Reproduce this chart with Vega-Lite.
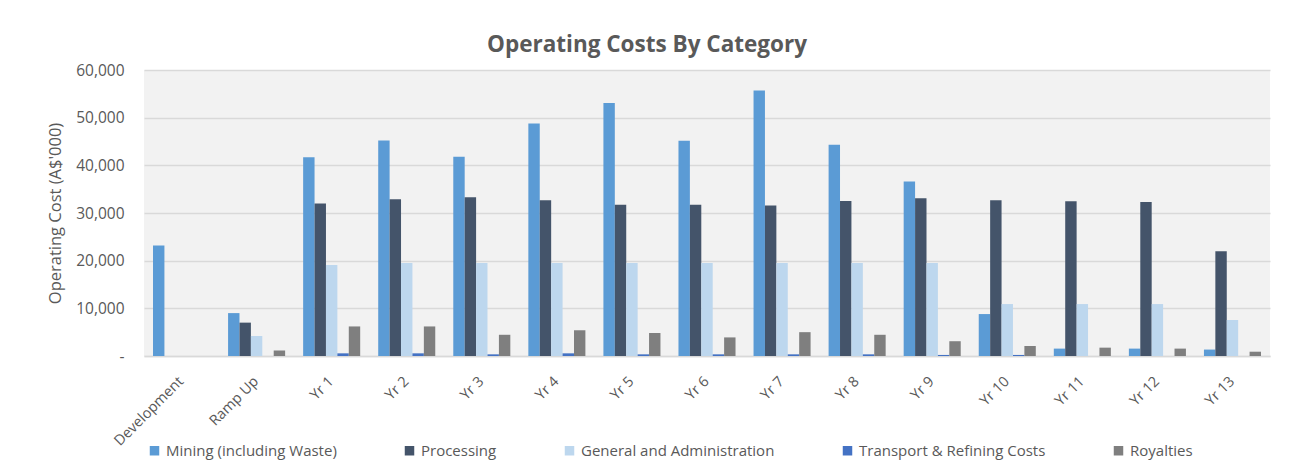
{
  "$schema": "https://vega.github.io/schema/vega-lite/v6.json",
  "width": 1126,
  "height": 286,
  "autosize": {"type": "none"},
  "padding": {"left": 144, "top": 70, "right": 19, "bottom": 114},
  "background": "white",
  "title": {
    "text": "Operating Costs By Category",
    "fontSize": 22.5,
    "fontWeight": "bold",
    "font": "Open Sans",
    "color": "#595959",
    "anchor": "middle",
    "dx": -60,
    "offset": 7
  },
  "data": {
    "values": [
      {"period": "Development", "category": "Mining (including Waste)", "value": 23200},
      {"period": "Ramp Up", "category": "Mining (including Waste)", "value": 9000},
      {"period": "Ramp Up", "category": "Processing", "value": 7000},
      {"period": "Ramp Up", "category": "General and Administration", "value": 4200},
      {"period": "Ramp Up", "category": "Royalties", "value": 1150},
      {"period": "Yr 1", "category": "Mining (including Waste)", "value": 41700},
      {"period": "Yr 1", "category": "Processing", "value": 32000},
      {"period": "Yr 1", "category": "General and Administration", "value": 19100},
      {"period": "Yr 1", "category": "Transport & Refining Costs", "value": 560},
      {"period": "Yr 1", "category": "Royalties", "value": 6200},
      {"period": "Yr 2", "category": "Mining (including Waste)", "value": 45200},
      {"period": "Yr 2", "category": "Processing", "value": 32900},
      {"period": "Yr 2", "category": "General and Administration", "value": 19500},
      {"period": "Yr 2", "category": "Transport & Refining Costs", "value": 560},
      {"period": "Yr 2", "category": "Royalties", "value": 6200},
      {"period": "Yr 3", "category": "Mining (including Waste)", "value": 41800},
      {"period": "Yr 3", "category": "Processing", "value": 33300},
      {"period": "Yr 3", "category": "General and Administration", "value": 19500},
      {"period": "Yr 3", "category": "Transport & Refining Costs", "value": 350},
      {"period": "Yr 3", "category": "Royalties", "value": 4450},
      {"period": "Yr 4", "category": "Mining (including Waste)", "value": 48800},
      {"period": "Yr 4", "category": "Processing", "value": 32700},
      {"period": "Yr 4", "category": "General and Administration", "value": 19500},
      {"period": "Yr 4", "category": "Transport & Refining Costs", "value": 560},
      {"period": "Yr 4", "category": "Royalties", "value": 5400},
      {"period": "Yr 5", "category": "Mining (including Waste)", "value": 53100},
      {"period": "Yr 5", "category": "Processing", "value": 31750},
      {"period": "Yr 5", "category": "General and Administration", "value": 19500},
      {"period": "Yr 5", "category": "Transport & Refining Costs", "value": 350},
      {"period": "Yr 5", "category": "Royalties", "value": 4800},
      {"period": "Yr 6", "category": "Mining (including Waste)", "value": 45150},
      {"period": "Yr 6", "category": "Processing", "value": 31750},
      {"period": "Yr 6", "category": "General and Administration", "value": 19500},
      {"period": "Yr 6", "category": "Transport & Refining Costs", "value": 350},
      {"period": "Yr 6", "category": "Royalties", "value": 3900},
      {"period": "Yr 7", "category": "Mining (including Waste)", "value": 55700},
      {"period": "Yr 7", "category": "Processing", "value": 31550},
      {"period": "Yr 7", "category": "General and Administration", "value": 19500},
      {"period": "Yr 7", "category": "Transport & Refining Costs", "value": 350},
      {"period": "Yr 7", "category": "Royalties", "value": 5000},
      {"period": "Yr 8", "category": "Mining (including Waste)", "value": 44300},
      {"period": "Yr 8", "category": "Processing", "value": 32500},
      {"period": "Yr 8", "category": "General and Administration", "value": 19500},
      {"period": "Yr 8", "category": "Transport & Refining Costs", "value": 350},
      {"period": "Yr 8", "category": "Royalties", "value": 4450},
      {"period": "Yr 9", "category": "Mining (including Waste)", "value": 36600},
      {"period": "Yr 9", "category": "Processing", "value": 33100},
      {"period": "Yr 9", "category": "General and Administration", "value": 19500},
      {"period": "Yr 9", "category": "Transport & Refining Costs", "value": 220},
      {"period": "Yr 9", "category": "Royalties", "value": 3100},
      {"period": "Yr 10", "category": "Mining (including Waste)", "value": 8800},
      {"period": "Yr 10", "category": "Processing", "value": 32700},
      {"period": "Yr 10", "category": "General and Administration", "value": 10900},
      {"period": "Yr 10", "category": "Transport & Refining Costs", "value": 220},
      {"period": "Yr 10", "category": "Royalties", "value": 2100},
      {"period": "Yr 11", "category": "Mining (including Waste)", "value": 1550},
      {"period": "Yr 11", "category": "Processing", "value": 32450},
      {"period": "Yr 11", "category": "General and Administration", "value": 10900},
      {"period": "Yr 11", "category": "Royalties", "value": 1750},
      {"period": "Yr 12", "category": "Mining (including Waste)", "value": 1550},
      {"period": "Yr 12", "category": "Processing", "value": 32300},
      {"period": "Yr 12", "category": "General and Administration", "value": 10900},
      {"period": "Yr 12", "category": "Royalties", "value": 1550},
      {"period": "Yr 13", "category": "Mining (including Waste)", "value": 1350},
      {"period": "Yr 13", "category": "Processing", "value": 22000},
      {"period": "Yr 13", "category": "General and Administration", "value": 7550},
      {"period": "Yr 13", "category": "Royalties", "value": 900}
    ]
  },
  "mark": {"type": "bar"},
  "encoding": {
    "x": {
      "field": "period",
      "type": "nominal",
      "sort": ["Development", "Ramp Up", "Yr 1", "Yr 2", "Yr 3", "Yr 4", "Yr 5", "Yr 6", "Yr 7", "Yr 8", "Yr 9", "Yr 10", "Yr 11", "Yr 12", "Yr 13"],
      "scale": {"paddingInner": 0.24, "paddingOuter": 0.12},
      "axis": {
        "title": null,
        "labelAngle": -45,
        "labelFontSize": 14.5,
        "labelFont": "Open Sans",
        "labelColor": "#595959",
        "ticks": false,
        "domain": true,
        "domainColor": "#D9D9D9",
        "domainWidth": 1.5,
        "labelPadding": 18,
        "labelOffset": -5
      }
    },
    "xOffset": {
      "field": "category",
      "type": "nominal",
      "sort": ["Mining (including Waste)", "Processing", "General and Administration", "Transport & Refining Costs", "Royalties"]
    },
    "y": {
      "field": "value",
      "type": "quantitative",
      "scale": {"domain": [0, 60000]},
      "axis": {
        "title": "Operating Cost (A$'000)",
        "titleFont": "Open Sans",
        "titleFontSize": 16.5,
        "titleFontWeight": "normal",
        "titleColor": "#595959",
        "titlePadding": 12,
        "values": [0, 10000, 20000, 30000, 40000, 50000, 60000],
        "labelExpr": "datum.value == 0 ? '-' : format(datum.value, ',')",
        "labelFont": "Open Sans",
        "labelFontSize": 15.5,
        "labelColor": "#595959",
        "labelPadding": 20,
        "ticks": false,
        "domain": false,
        "gridColor": "#D9D9D9",
        "gridWidth": 1.5
      }
    },
    "color": {
      "field": "category",
      "type": "nominal",
      "scale": {
        "domain": ["Mining (including Waste)", "Processing", "General and Administration", "Transport & Refining Costs", "Royalties"],
        "range": ["#5B9BD5", "#44546A", "#BDD7EE", "#4472C4", "#7F7F7F"]
      },
      "legend": {
        "title": null,
        "orient": "none",
        "direction": "horizontal",
        "columns": 5,
        "legendX": 3,
        "legendY": 373,
        "symbolType": "square",
        "symbolSize": 90,
        "symbolStrokeWidth": 0,
        "labelFont": "Open Sans",
        "labelFontSize": 15,
        "labelColor": "#595959",
        "labelOffset": 4,
        "columnPadding": 65,
        "labelLimit": 400
      }
    }
  },
  "config": {
    "view": {"fill": "#F2F2F2", "stroke": null}
  }
}
